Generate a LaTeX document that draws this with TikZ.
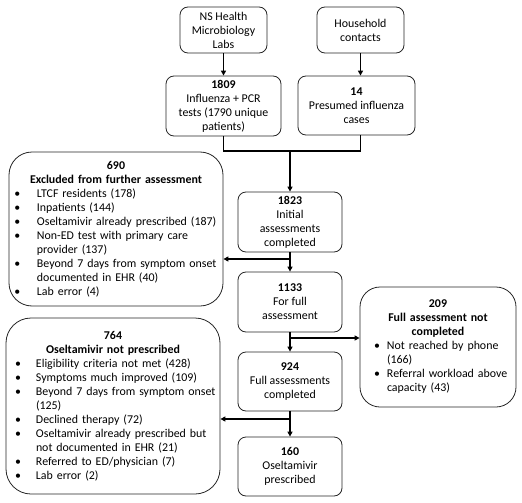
\documentclass[tikz,border=0pt]{standalone}
\usepackage{fontspec}
\setmainfont{Carlito}
\usetikzlibrary{arrows.meta}
\newlength\bulo
\newlength\txti
\newcommand\bitem[1]{\par\hangindent=\txti\hangafter=1\noindent\makebox[\txti][l]{\hspace{\bulo}\textbullet}#1}
\newcommand\boxsetup[2]{\setlength\parindent{0pt}\setlength\parskip{0pt}\setlength\bulo{#1}\setlength\txti{#2}}
\begin{document}
\begin{tikzpicture}[x=1pt,y=-1pt,
  font=\fontsize{11.9}{14}\selectfont,
  sbox/.style={draw=black!85, line width=0.8pt, rounded corners=8pt, align=center, inner sep=0pt},
  bbox/.style={draw=black!85, line width=0.8pt, rounded corners=23pt, inner sep=0pt},
  conn/.style={line width=1.6pt, -{Triangle[length=5pt,width=5pt]}},
  plain/.style={line width=1.6pt}]
\useasboundingbox (0,0) rectangle (522,503);

\node[sbox, minimum width=87pt, minimum height=46pt] (ns) at (223.5,30) {NS Health\\Microbiology\\Labs};
\node[sbox, minimum width=87pt, minimum height=46pt] (hh) at (360.5,30) {Household\\contacts};
\node[sbox, minimum width=115pt, minimum height=60pt] (n1809) at (223.5,106) {\textbf{1809}\\Influenza + PCR\\tests (1790 unique\\patients)};
\node[sbox, minimum width=117pt, minimum height=59pt] (n14) at (356.5,105.5) {\textbf{14}\\Presumed influenza\\cases};
\node[sbox, minimum width=104pt, minimum height=60pt] (n1823) at (290,222) {\textbf{1823}\\Initial\\assessments\\completed};
\node[sbox, minimum width=104pt, minimum height=60pt] (n1133) at (290,302) {\textbf{1133}\\For full\\assessment};
\node[sbox, minimum width=104pt, minimum height=59pt] (n924) at (290,381.5) {\textbf{924}\\Full assessments\\completed};
\node[sbox, minimum width=104pt, minimum height=59pt] (n160) at (290,466.5) {\textbf{160}\\Oseltamivir\\prescribed};

\node[bbox, text width=214pt, minimum height=154pt] (n690) at (116,229) {\boxsetup{5.5pt}{28pt}\centering\textbf{690}\\\textbf{Excluded from further assessment}\par\raggedright
\bitem{LTCF residents (178)}
\bitem{Inpatients (144)}
\bitem{Oseltamivir already prescribed (187)}
\bitem{Non-ED test with primary care\newline provider (137)}
\bitem{Beyond 7 days from symptom onset\newline documented in EHR (40)}
\bitem{Lab error (4)}\par};

\node[bbox, rounded corners=25pt, text width=214pt, minimum height=176pt] (n764) at (113,406) {\boxsetup{9pt}{30pt}\centering\textbf{764}\\\textbf{Oseltamivir not prescribed}\par\raggedright
\bitem{Eligibility criteria not met (428)}
\bitem{Symptoms much improved (109)}
\bitem{Beyond 7 days from symptom onset\newline (125)}
\bitem{Declined therapy (72)}
\bitem{Oseltamivir already prescribed but\newline not documented in EHR (21)}
\bitem{Referred to ED/physician (7)}
\bitem{Lab error (2)}\par};

\node[bbox, rounded corners=20pt, text width=156pt, minimum height=120pt] (n209) at (438,347) {\boxsetup{14pt}{27pt}\centering\textbf{209}\\\textbf{Full assessment not}\\\textbf{completed}\par\raggedright
\bitem{Not reached by phone\newline (166)}
\bitem{Referral workload above\newline capacity (43)}\par};

\coordinate (m) at (290,151);
\coordinate (b1) at (290,259);
\coordinate (b2) at (290,338);
\coordinate (b3) at (290,419);

\draw[conn] (ns) -- (n1809);
\draw[conn] (hh.south) -- (hh.south |- n14.north);
\draw[plain] (n1809.south) |- (m) -| (n14.south -| hh.south);
\draw[conn] (m) -- (n1823);
\draw[conn] (n1823) -- (n1133);
\draw[conn] (b1) -- (b1 -| n690.east);
\draw[conn] (n1133) -- (n924);
\draw[conn] (b2) -- (b2 -| n209.west);
\draw[conn] (n924) -- (n160);
\draw[conn] (b3) -- (b3 -| n764.east);
\end{tikzpicture}
\end{document}
